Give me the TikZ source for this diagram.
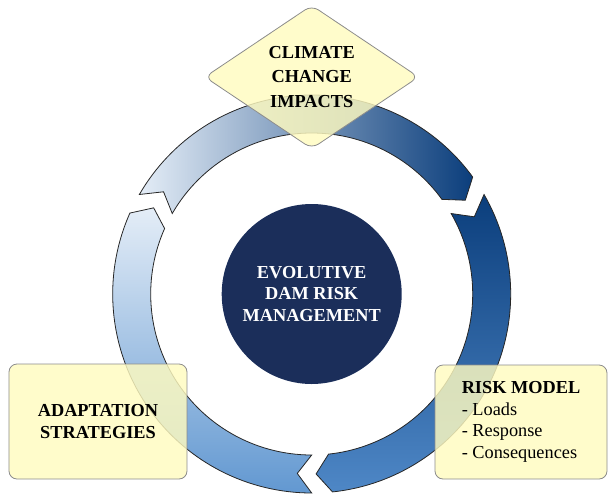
\documentclass[tikz,border=0pt]{standalone}
\usepackage{fontspec}
\setmainfont{Liberation Serif}
\usetikzlibrary{shapes.geometric}

\definecolor{navy}{RGB}{27,46,90}
\definecolor{paleyellow}{RGB}{255,251,192}
\definecolor{boxedge}{RGB}{140,140,140}
\definecolor{palblue}{RGB}{228,237,247}
\definecolor{darkblue}{RGB}{11,62,124}
\definecolor{midblue}{RGB}{78,135,198}
\definecolor{lowblue}{RGB}{98,152,209}

\begin{document}
\begin{tikzpicture}[x=1pt, y=1pt,
    ringpart/.style={draw=black!85, line width=0.8pt},
    textbox/.style={draw=boxedge, fill=paleyellow, fill opacity=0.82, text opacity=1,
                    rounded corners=8pt, line width=0.8pt},
    title/.style={font=\fontsize{18.3}{21.7}\selectfont\bfseries, align=center}]

\useasboundingbox (-311.7,-199) rectangle (297.3,294);

% Radii of the ring and depth of the arrow points
\def\Ro{199}
\def\Ri{161}
\def\Rm{180}
\def\d{4.6}

% Top arrow: upper left to right
\draw[ringpart, left color=palblue, right color=darkblue]
      (150:\Ro) -- (150-\d:\Rm) -- (150:\Ri)
      arc[start angle=150, end angle=36, radius=\Ri]
      -- (36-\d:\Rm) -- (36:\Ro)
      arc[start angle=36, end angle=150, radius=\Ro] -- cycle;

% Right arrow: right down to bottom
\draw[ringpart, top color=darkblue, bottom color=midblue]
      (30:\Ro) -- (30-\d:\Rm) -- (30:\Ri)
      arc[start angle=30, end angle=-84, radius=\Ri]
      -- (-84-\d:\Rm) -- (-84:\Ro)
      arc[start angle=-84, end angle=30, radius=\Ro] -- cycle;

% Left arrow: bottom up to upper left
\draw[ringpart, top color=palblue, bottom color=lowblue]
      (270:\Ro) -- (270-\d:\Rm) -- (270:\Ri)
      arc[start angle=270, end angle=156, radius=\Ri]
      -- (156-\d:\Rm) -- (156:\Ro)
      arc[start angle=156, end angle=270, radius=\Ro] -- cycle;

% Centre
\node[circle, fill=navy, minimum size=180pt, inner sep=0pt, text=white, title]
      (core) at (0,0) {EVOLUTIVE\\DAM RISK\\MANAGEMENT};

% Boxes round the ring
\node[diamond, aspect=1.49, minimum width=214pt, minimum height=143.5pt, inner sep=0pt,
      textbox, title, font=\fontsize{18.3}{24.6}\selectfont\bfseries]
      (impacts) at (0,217) {CLIMATE\\CHANGE\\IMPACTS};
\node[textbox, minimum width=178pt, minimum height=115pt, title]
      (adapt) at (-213.7,-127.5) {ADAPTATION\\STRATEGIES};
\node[textbox, minimum width=172pt, minimum height=114pt, align=left,
      font=\fontsize{18.3}{21.7}\selectfont]
      (model) at (209.3,-128) {\textbf{RISK MODEL}\\- Loads\\- Response\\- Consequences};

\end{tikzpicture}
\end{document}
